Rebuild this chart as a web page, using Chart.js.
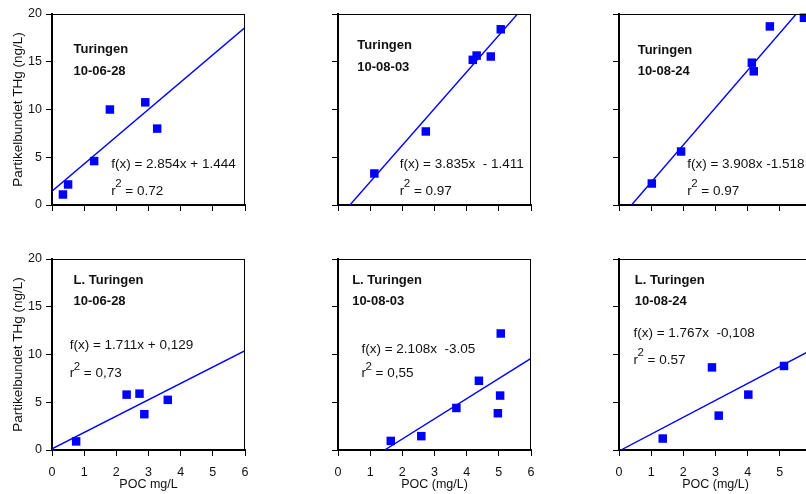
<!DOCTYPE html>
<html lang="sv">
<head>
<meta charset="UTF-8">
<title>POC och partikelbundet THg</title>
<script src="https://cdn.jsdelivr.net/npm/chart.js"></script>
<style>
  html, body { margin: 0; padding: 0; background: #fff; overflow: hidden; width: 806px; height: 494px; }
  body { position: relative; }
  canvas { position: absolute; }
</style>
</head>
<body>
<canvas id="t1" width="251" height="225" style="left:0px;top:0px"></canvas>
<canvas id="t2" width="251" height="225" style="left:286px;top:0px"></canvas>
<canvas id="t3" width="251" height="225" style="left:567px;top:0px"></canvas>
<canvas id="l1" width="251" height="249" style="left:0px;top:245px"></canvas>
<canvas id="l2" width="251" height="249" style="left:286px;top:245px"></canvas>
<canvas id="l3" width="251" height="249" style="left:567px;top:245px"></canvas>

<script>
// Turingen - POC (mg/L) och partikelbundet THg (ng/L)
const pocT1 = [0.34, 0.50, 1.31, 1.80, 2.90, 3.27];
const thgT1 = [1.1, 2.15, 4.6, 10.0, 10.75, 8.0];
const pocT2 = [1.13, 2.73, 4.19, 4.31, 4.75, 5.06];
const thgT2 = [3.3, 7.7, 15.2, 15.65, 15.55, 18.4];
const pocT3 = [1.02, 1.93, 4.13, 4.19, 4.69, 5.75];
const thgT3 = [2.25, 5.6, 14.9, 14.0, 18.7, 19.6];

// L. Turingen
const pocL1 = [0.75, 2.32, 2.72, 2.87, 3.60];
const thgL1 = [0.9, 5.8, 5.9, 3.75, 5.25];
const pocL2 = [1.64, 2.59, 3.68, 4.38, 4.97, 5.04, 5.06];
const thgL2 = [0.95, 1.45, 4.4, 7.25, 3.85, 5.7, 12.2];
const pocL3 = [1.36, 2.89, 3.10, 4.02, 5.13];
const thgL3 = [1.2, 8.65, 3.6, 5.8, 8.8];

// regressionslinjer (ändpunkter)
const fitXT1 = [0, 6],       fitYT1 = [1.44, 18.57];
const fitXT2 = [0.37, 5.58], fitYT2 = [0, 20];
const fitXT3 = [0.39, 5.51], fitYT3 = [0, 20];
const fitXL1 = [0, 6],       fitYL1 = [0.13, 10.4];
const fitXL2 = [1.45, 6],    fitYL2 = [0, 9.6];
const fitXL3 = [0.06, 6],    fitYL3 = [0, 10.5];

// texter
const sites = ['Turingen', 'Turingen', 'Turingen', 'L. Turingen', 'L. Turingen', 'L. Turingen'];
const dates = ['10-06-28', '10-08-03', '10-08-24', '10-06-28', '10-08-03', '10-08-24'];
const equations = ['f(x) = 2.854x + 1.444', 'f(x) = 3.835x  - 1.411', 'f(x) = 3.908x -1.518',
                   'f(x) = 1.711x + 0,129', 'f(x) = 2.108x  -3.05', 'f(x) = 1.767x  -0,108'];
const r2Values = ['0.72', '0.97', '0.97', '0,73', '0,55', '0.57'];

const xRange = [0, 6];
const yRange = [0, 20];
const yTitle = 'Partikelbundet THg (ng/L)';
const xTitles = ['POC mg/L', 'POC (mg/L)', 'POC (mg/L)'];

const FONT = 'Arial, "Liberation Sans", sans-serif';
const BLUE = '#0000ff';
const INK = '#111';

// ram: tunn linje upptill och till höger
const framePlugin = {
  id: 'frame',
  afterDraw(chart) {
    const {ctx, chartArea: a} = chart;
    ctx.save();
    ctx.strokeStyle = '#000';
    ctx.lineWidth = 1;
    ctx.beginPath();
    ctx.moveTo(a.left, a.top + 0.5);
    ctx.lineTo(a.right, a.top + 0.5);
    ctx.moveTo(a.right - 0.5, a.top);
    ctx.lineTo(a.right - 0.5, a.bottom);
    ctx.stroke();
    ctx.restore();
  }
};

function notePlugin(i, pos) {
  return {
    id: 'note' + i,
    afterDatasetsDraw(chart) {
      const {ctx, scales: {x, y}} = chart;
      ctx.save();
      ctx.fillStyle = INK;
      ctx.textAlign = 'left';
      ctx.textBaseline = 'middle';
      const sx = x.getPixelForValue(pos.site[0]);
      ctx.font = 'bold 13px ' + FONT;
      ctx.fillText(sites[i], sx, y.getPixelForValue(pos.site[1]));
      ctx.fillText(dates[i], sx, y.getPixelForValue(pos.date));

      const ex = x.getPixelForValue(pos.eq[0]);
      ctx.font = '13.5px ' + FONT;
      ctx.fillText(equations[i], ex, y.getPixelForValue(pos.eq[1]));

      // r^2 med upphöjd tvåa
      const ry = y.getPixelForValue(pos.r2);
      ctx.fillText('r', ex, ry);
      let cx = ex + ctx.measureText('r').width;
      ctx.font = '11.5px ' + FONT;
      ctx.fillText('2', cx - 0.5, ry - 7);
      cx += ctx.measureText('2').width - 0.5;
      ctx.font = '13.5px ' + FONT;
      ctx.fillText(' = ' + r2Values[i], cx, ry);
      ctx.restore();
    }
  };
}

const notePos = [
  {site: [0.67, 16.3], date: 14.0,  eq: [1.84, 4.25],  r2: 1.45},
  {site: [0.60, 16.7], date: 14.45, eq: [1.92, 4.25],  r2: 1.45},
  {site: [0.58, 16.2], date: 13.95, eq: [2.12, 4.25],  r2: 1.45},
  {site: [0.67, 17.75], date: 15.6, eq: [0.55, 11.0],  r2: 8.0},
  {site: [0.44, 17.75], date: 15.6, eq: [0.73, 10.5],  r2: 8.0},
  {site: [0.49, 17.75], date: 15.6, eq: [0.45, 12.2],  r2: 9.4}
];

function toPoints(xs, ys) {
  return xs.map((v, k) => ({x: v, y: ys[k]}));
}

function makePanel(id, i, poc, thg, fitX, fitY) {
  const col = i % 3;
  const bottomRow = i >= 3;
  const tickGrid = {
    display: true,
    drawOnChartArea: false,
    drawTicks: true,
    tickLength: 6,
    tickColor: '#000',
    tickWidth: 1
  };
  return new Chart(document.getElementById(id), {
    type: 'scatter',
    data: {
      datasets: [
        {
          data: toPoints(poc, thg),
          pointStyle: 'rect',
          pointRadius: 6,
          pointBorderWidth: 0,
          pointBackgroundColor: BLUE,
          showLine: false,
          clip: false
        },
        {
          data: toPoints(fitX, fitY),
          showLine: true,
          borderColor: BLUE,
          borderWidth: 1.4,
          pointRadius: 0,
          tension: 0
        }
      ]
    },
    options: {
      responsive: false,
      animation: false,
      devicePixelRatio: 1,
      layout: {padding: {top: 14, right: 6, left: 0, bottom: 0}},
      plugins: {legend: {display: false}, tooltip: {enabled: false}},
      scales: {
        x: {
          type: 'linear',
          min: xRange[0],
          max: xRange[1],
          ticks: {
            stepSize: 1,
            display: bottomRow,
            padding: 9,
            color: INK,
            font: {family: FONT, size: 12.5},
            maxRotation: 0
          },
          grid: tickGrid,
          border: {display: true, color: '#000', width: 2},
          title: {
            display: bottomRow,
            text: xTitles[col],
            color: INK,
            font: {family: FONT, size: 12.5},
            padding: {top: 0, bottom: 2}
          },
          afterFit(s) {
            s.height = bottomRow ? 44 : 20;
            s.paddingLeft = 0;
            s.paddingRight = 0;
          }
        },
        y: {
          type: 'linear',
          min: yRange[0],
          max: yRange[1],
          ticks: {
            stepSize: 5,
            display: col === 0,
            padding: 4,
            color: INK,
            font: {family: FONT, size: 12.5}
          },
          grid: tickGrid,
          border: {display: true, color: '#000', width: 2},
          title: {
            display: col === 0,
            text: yTitle,
            color: INK,
            font: {family: FONT, size: 13.5},
            padding: {top: 10, bottom: 0}
          },
          afterFit(s) {
            s.width = 52;
            s.paddingTop = 0;
            s.paddingBottom = 0;
          }
        }
      }
    },
    plugins: [framePlugin, notePlugin(i, notePos[i])]
  });
}

makePanel('t1', 0, pocT1, thgT1, fitXT1, fitYT1);
makePanel('t2', 1, pocT2, thgT2, fitXT2, fitYT2);
makePanel('t3', 2, pocT3, thgT3, fitXT3, fitYT3);
makePanel('l1', 3, pocL1, thgL1, fitXL1, fitYL1);
makePanel('l2', 4, pocL2, thgL2, fitXL2, fitYL2);
makePanel('l3', 5, pocL3, thgL3, fitXL3, fitYL3);
</script>
</body>
</html>
